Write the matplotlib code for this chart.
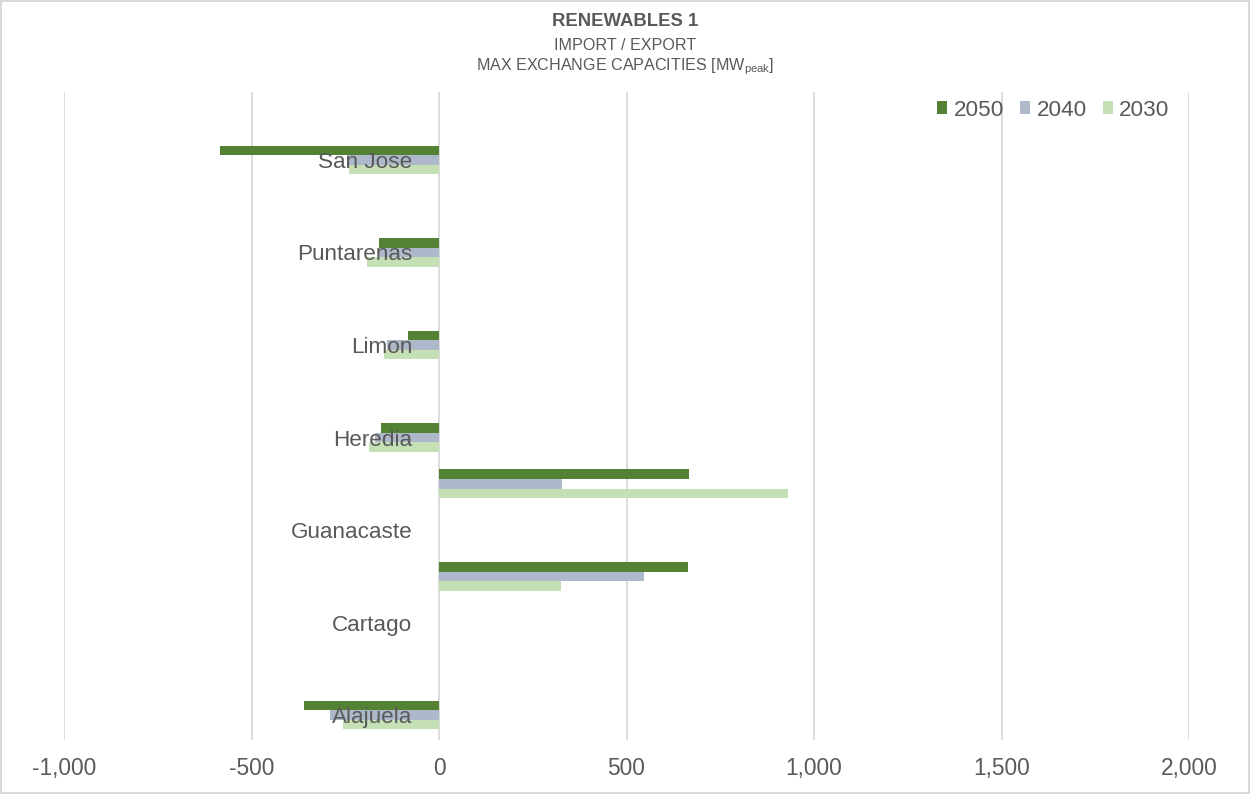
import matplotlib
matplotlib.use("Agg")
import matplotlib.pyplot as plt
import numpy as np

plt.rcParams["font.family"] = ["Liberation Sans", "DejaVu Sans"]
plt.rcParams["mathtext.fontset"] = "custom"
plt.rcParams["mathtext.rm"] = "Liberation Sans"

# categories listed bottom to top, as drawn
categories = ["Alajuela", "Cartago", "Guanacaste", "Heredia", "Limon", "Puntarenas", "San Jose"]
v2050 = [-359, 665, 667, -154, -82, -159, -585]
v2040 = [-290, 546, 329, -170, -138, -160, -245]
v2030 = [-255, 326, 930, -188, -148, -191, -239]
# the export rows sit half a category above their label
bar_shift = [0, 0.5, 0.5, 0, 0, 0, 0]
x_ticks = [-1000, -500, 0, 500, 1000, 1500, 2000]

TEXT = "#595959"
GRID = "#d9d9d9"
series = [("2050", v2050, "#548235"), ("2040", v2040, "#adb9ca"), ("2030", v2030, "#c5e0b4")]

fig = plt.figure(figsize=(12.5, 7.94), dpi=100)
fig.patch.set_edgecolor(GRID)
fig.patch.set_linewidth(1.5)
ax = fig.add_axes([64 / 1250, 54 / 794, 1125 / 1250, 648 / 794])

pos = np.arange(len(categories)) + np.array(bar_shift)
bar_h = 0.103
for i, (name, vals, color) in enumerate(series):
    ax.barh(pos + (1 - i) * bar_h, vals, height=bar_h, color=color, label=name, zorder=1)

for t in x_ticks:
    ax.axvline(t, color=GRID, lw=1.3, zorder=0)

ax.set_xlim(x_ticks[0], x_ticks[-1])
ax.set_ylim(-0.27, 6.735)
ax.set_xticks(x_ticks)
ax.set_xticklabels([f"{t:,}" for t in x_ticks])
ax.set_yticks(np.arange(len(categories)))
ax.set_yticklabels(categories)
ax.spines["left"].set_position(("data", 0))
for s in ax.spines.values():
    s.set_visible(False)
ax.tick_params(axis="y", length=0, pad=19, labelsize=16.2, labelcolor=TEXT)
ax.tick_params(axis="x", length=0, pad=12, labelsize=16.4, labelcolor=TEXT)
for lbl in ax.get_yticklabels():
    lbl.set_zorder(5)

fig.text(0.5, 1 - 22 / 794, "RENEWABLES 1", ha="center", va="center",
         fontsize=13.3, fontweight="bold", color=TEXT)
fig.text(0.5, 1 - 45 / 794, "IMPORT / EXPORT", ha="center", va="center",
         fontsize=11.6, color=TEXT)
fig.text(0.5, 1 - 67 / 794, r"MAX EXCHANGE CAPACITIES [MW$_{\mathregular{peak}}$]",
         ha="center", va="center", fontsize=11.6, color=TEXT)

fig.legend(loc="center right", bbox_to_anchor=(1190 / 1250, 1 - 110 / 794),
           ncol=3, frameon=False, fontsize=16.2, labelcolor=TEXT,
           handlelength=0.45, handleheight=0.45, handletextpad=0.3, columnspacing=0.7)

fig.savefig("out.png", dpi=100)
